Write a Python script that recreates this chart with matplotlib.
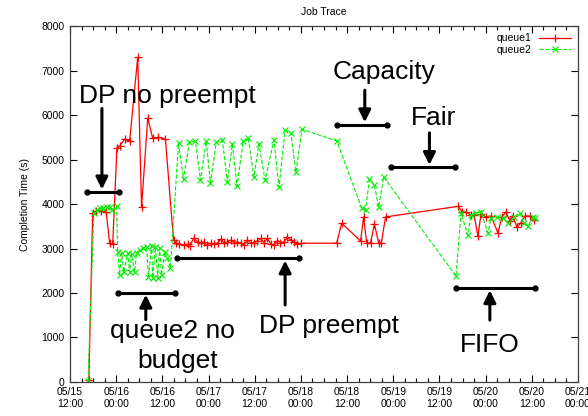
import datetime as dt
import matplotlib
matplotlib.use("Agg")
import matplotlib.pyplot as plt
import matplotlib.dates as mdates

plt.rcParams['font.family'] = ['Liberation Sans', 'DejaVu Sans']

# hours after 05/15 12:00, completion time in seconds
q1_hours = [4.9, 5.9, 6.8, 8.1, 9.4, 10.3, 11.1,
            12.2, 12.9, 14.2, 15.5, 17.6, 18.6, 20.2, 21.5, 23.0, 24.8,
            26.9, 27.6, 28.4, 29.5, 30.6, 31.2, 32.1, 33.2, 34.1, 34.9, 35.5,
            36.6, 37.5, 38.4, 39.2, 40.1, 40.9, 41.8, 42.7, 43.5, 44.4, 45.3,
            46.1, 47.0, 47.8, 48.7, 49.6, 50.4, 51.3, 52.2, 53.0, 53.9, 54.7,
            55.6, 56.5, 57.3, 58.2, 59.0, 59.9,
            69.3, 70.6, 75.5, 76.3, 77.1, 78.1, 79.1, 80.2, 80.9, 82.0,
            100.9, 101.9, 102.9, 104.2, 105.0, 106.0, 106.8, 108.1, 109.4,
            111.2, 112.2, 113.3, 114.3, 115.1, 116.1, 117.1, 118.2, 119.5, 120.5]
q1_values = [40, 3800, 3840, 3850, 3830, 3120, 3100,
             5260, 5300, 5460, 5415, 7300, 3930, 5930, 5480, 5500, 5460,
             3190, 3120, 3100, 3080, 3100, 3060, 3230, 3150, 3130, 3150, 3080,
             3120, 3100, 3130, 3210, 3120, 3150, 3190, 3130, 3150, 3120, 3080,
             3190, 3120, 3130, 3170, 3230, 3130, 3230, 3100, 3080, 3180, 3130,
             3150, 3250, 3190, 3150, 3100, 3120,
             3120, 3570, 3170, 3710, 3120, 3130, 3550, 3130, 3130, 3710,
             3950, 3820, 3820, 3750, 3750, 3280, 3780, 3710, 3730,
             3350, 3710, 3820, 3620, 3730, 3480, 3570, 3730, 3730, 3640]

q2_hours = [4.7, 6.2, 7.0, 7.8, 8.5, 9.6, 10.3, 10.9, 12.1,
            12.4, 12.9, 13.4, 14.0, 15.0, 15.5, 16.0, 16.8, 17.3, 18.1, 19.1,
            19.9, 20.4, 21.2, 21.5, 22.2, 22.8, 23.3, 23.8, 24.6, 25.3, 26.1,
            28.2, 29.5, 31.0, 32.6, 33.9, 35.4, 36.5, 38.0, 39.6, 40.9, 42.2,
            43.4, 45.0, 46.3, 47.8, 49.1, 50.7, 53.0, 54.3, 55.9, 57.4, 58.7,
            60.3, 69.3, 75.8, 76.8, 77.8, 79.1, 80.2, 81.5,
            100.3, 101.6, 103.4, 104.2, 105.5, 106.8, 108.6, 109.4, 111.0,
            112.5, 113.8, 115.3, 116.9, 117.9, 119.0, 120.3, 120.8]
q2_values = [30, 3800, 3870, 3910, 3900, 3930, 3930, 3870, 3950,
             2920, 2400, 2900, 2470, 2900, 2470, 2880, 2470, 2900, 2970, 3010,
             3030, 2360, 3060, 2340, 3030, 2340, 3010, 2400, 2920, 2790, 2560,
             5370, 4560, 5390, 5415, 4540, 5415, 4470, 5390, 5440, 4490, 5350,
             4400, 5415, 5480, 4610, 5350, 4540, 5440, 4380, 5660, 5600, 4720,
             5680, 5420, 3910, 3870, 4560, 4430, 3930, 4610,
             2380, 3800, 3300, 3750, 3800, 3820, 3350, 3690, 3700,
             3680, 3570, 3700, 3800, 3570, 3500, 3710, 3680]

start = dt.datetime(2012, 5, 15, 12, 0)
span_hours = 132


def to_time(h):
    return start + dt.timedelta(hours=h)


q1_times = [to_time(h) for h in q1_hours]
q2_times = [to_time(h) for h in q2_hours]

fig = plt.figure(figsize=(5.88, 4.16), dpi=100)
ax = fig.add_axes([0.119, 0.082, 0.864, 0.855])

ax.plot(q1_times, q1_values, color='red', lw=0.9, marker='+', ms=6,
        mew=0.9, label='queue1')
ax.plot(q2_times, q2_values, color='#00ee00', lw=0.8, ls='--', marker='x',
        ms=4, mew=0.8, label='queue2')

ax.set_xlim(start, to_time(span_hours))
ax.set_ylim(0, 8000)
ax.set_yticks(range(0, 8001, 1000))
ax.xaxis.set_major_locator(mdates.HourLocator(byhour=[0, 12]))
ax.xaxis.set_minor_locator(mdates.HourLocator(byhour=range(0, 24, 3)))
ax.xaxis.set_major_formatter(mdates.DateFormatter('%m/%d\n%H:%M'))
ax.tick_params(which='both', direction='in', top=True, right=True,
               labelsize=7.5, pad=4)
ax.tick_params(which='major', length=5, width=0.8)
ax.tick_params(which='minor', length=3, width=0.8)
for s in ax.spines.values():
    s.set_color('#404040')
    s.set_linewidth(0.9)

ax.set_title('Job Trace', fontsize=7.5, pad=8)
ax.set_ylabel('Completion Time (s)', fontsize=7.5, labelpad=8)

ax.legend(loc='upper right', frameon=False, markerfirst=False, fontsize=7.5,
          handlelength=3, borderaxespad=0.3, labelspacing=0.1)

# annotations
big = 19


def bar(h0, h1, v):
    ax.plot([to_time(h0), to_time(h1)], [v, v], color='black', lw=2.2,
            marker='o', ms=3.5, clip_on=False)


def arrow(h, v0, v1):
    ax.annotate('', xy=(to_time(h), v1), xytext=(to_time(h), v0),
                arrowprops=dict(arrowstyle='-|>', color='black', lw=2.2,
                                mutation_scale=18, shrinkA=0, shrinkB=0))


ax.text(to_time(25.3), 6430, 'DP no preempt', fontsize=big, ha='center', va='center')
arrow(8.3, 6150, 4330)
bar(4.4, 12.7, 4270)

ax.text(to_time(26.6), 1150, 'queue2 no', fontsize=big, ha='center', va='center')
ax.text(to_time(27.9), 480, 'budget', fontsize=big, ha='center', va='center')
arrow(19.7, 1400, 1960)
bar(12.4, 27.2, 2000)

ax.text(to_time(67.2), 1250, 'DP preempt', fontsize=big, ha='center', va='center')
arrow(55.9, 1730, 2730)
bar(27.9, 59.5, 2786)

ax.text(to_time(81.5), 6960, 'Capacity', fontsize=big, ha='center', va='center')
arrow(76.6, 6560, 5840)
bar(69.3, 82.5, 5775)

ax.text(to_time(94.5), 5930, 'Fair', fontsize=big, ha='center', va='center')
arrow(93.4, 5600, 4880)
bar(83.3, 100.1, 4830)

ax.text(to_time(109.1), 830, 'FIFO', fontsize=big, ha='center', va='center')
arrow(109.1, 1390, 2060)
bar(100.3, 120.8, 2112)

fig.savefig('out.png', dpi=100)
